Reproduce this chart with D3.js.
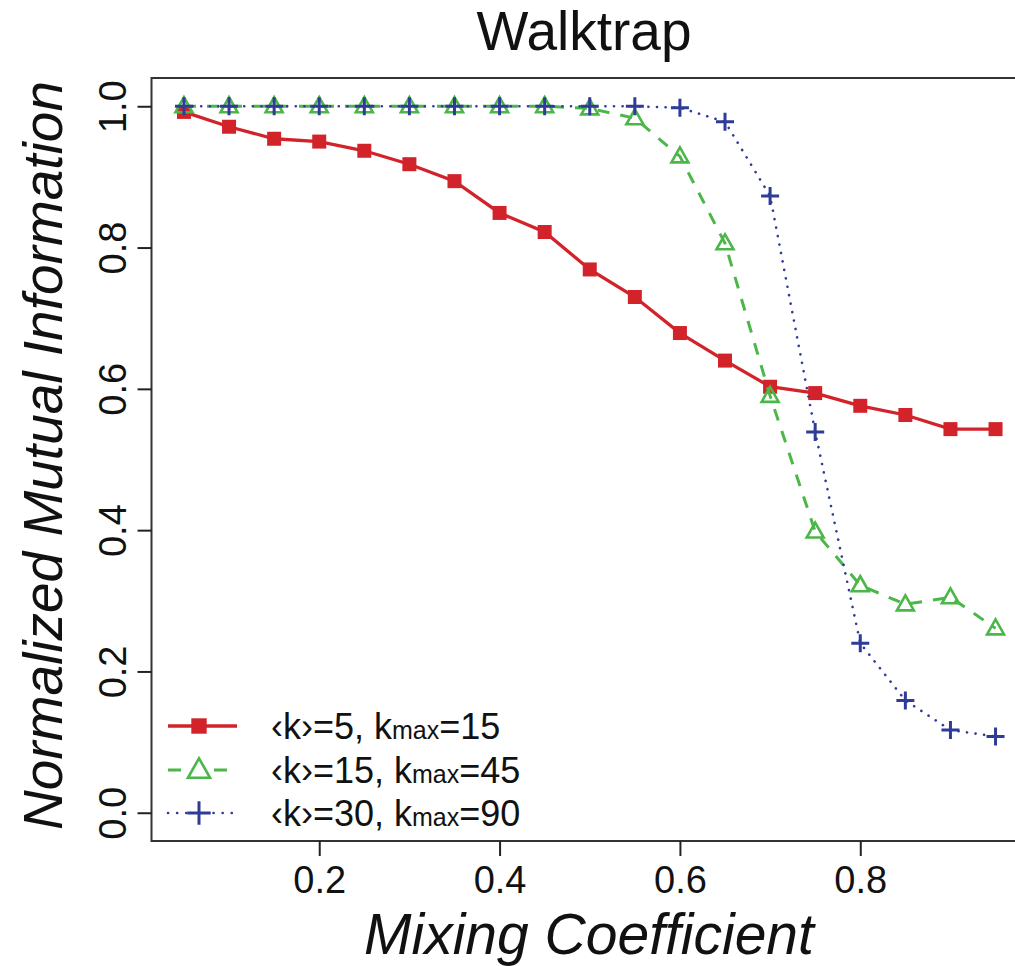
<!DOCTYPE html>
<html>
<head>
<meta charset="utf-8">
<script src="https://cdn.jsdelivr.net/npm/d3@7"></script>
<style>
  html, body { margin: 0; padding: 0; background: #fff; }
  svg { display: block; font-family: "Liberation Sans", Arial, Helvetica, sans-serif; }
</style>
</head>
<body>
<svg id="chart" width="1015" height="966"></svg>
<script>
// ---- data ----
const mixing = [0.05, 0.10, 0.15, 0.20, 0.25, 0.30, 0.35, 0.40, 0.45, 0.50,
                0.55, 0.60, 0.65, 0.70, 0.75, 0.80, 0.85, 0.90, 0.95];
const nmiK5  = [0.992, 0.971, 0.954, 0.950, 0.937, 0.918, 0.894, 0.849, 0.822, 0.769,
                0.730, 0.679, 0.640, 0.603, 0.594, 0.576, 0.563, 0.543, 0.543];
const nmiK15 = [1.000, 1.000, 1.000, 1.000, 1.000, 1.000, 1.000, 1.000, 1.000, 0.997,
                0.983, 0.929, 0.806, 0.590, 0.398, 0.322, 0.295, 0.305, 0.261];
const nmiK30 = [1.000, 1.000, 1.000, 1.000, 1.000, 1.000, 1.000, 1.000, 1.000, 1.000,
                1.000, 0.998, 0.978, 0.873, 0.539, 0.240, 0.159, 0.117, 0.108];
const xTicks = [0.2, 0.4, 0.6, 0.8];
const yTicks = [0.0, 0.2, 0.4, 0.6, 0.8, 1.0];
const seriesNames = [["‹k›=5, k", "max", "=15"], ["‹k›=15, k", "max", "=45"], ["‹k›=30, k", "max", "=90"]];
const titleText = "Walktrap";
const xLabel = "Mixing Coefficient";
const yLabel = "Normalized Mutual Information";

// ---- layout ----
const svg = d3.select("#chart");
const pLeft = 151.5, pRight = 1028, pTop = 78, pBottom = 841;
const x = d3.scaleLinear().domain([0.014, 0.986]).range([pLeft, pRight]);
const y = d3.scaleLinear().domain([-0.04, 1.04]).range([pBottom, pTop]);

const colors = ["#D3232A", "#4CB749", "#2E3C98"];
const series = [nmiK5, nmiK15, nmiK30];
const dashes = [null, "12 11", "0.1 8.5"];
const widths = [3.3, 3, 2.6];

// frame
svg.append("rect").attr("x", pLeft).attr("y", pTop)
  .attr("width", pRight - pLeft).attr("height", pBottom - pTop)
  .attr("fill", "none").attr("stroke", "#333").attr("stroke-width", 2);

// x axis
const xAxis = d3.axisBottom(x).tickValues(xTicks).tickSize(15).tickPadding(14)
  .tickFormat(d3.format(".1f"));
const gx = svg.append("g").attr("transform", `translate(0,${pBottom})`).call(xAxis);
gx.select(".domain").remove();
gx.selectAll(".tick line").attr("stroke", "#222").attr("stroke-width", 2);
gx.selectAll(".tick text").attr("font-size", 38).attr("fill", "#111")
  .attr("font-family", "'Liberation Sans', Arial, sans-serif")
  .attr("dy", "0.71em").attr("y", 25);

// y axis
const yAxis = d3.axisLeft(y).tickValues(yTicks).tickSize(14).tickFormat(d3.format(".1f"));
const gy = svg.append("g").attr("transform", `translate(${pLeft},0)`).call(yAxis);
gy.select(".domain").remove();
gy.selectAll(".tick line").attr("stroke", "#222").attr("stroke-width", 2);
gy.selectAll(".tick text")
  .attr("font-size", 38).attr("fill", "#111")
  .attr("font-family", "'Liberation Sans', Arial, sans-serif")
  .attr("x", null).attr("dy", null)
  .attr("text-anchor", "middle")
  .attr("transform", "translate(-26,0) rotate(-90)");

// lines & markers
function drawMarker(g, i, cx, cy, s) {
  if (i === 0) {
    const w = 14 * s;
    g.append("rect").attr("x", cx - w / 2).attr("y", cy - w / 2)
      .attr("width", w).attr("height", w).attr("fill", colors[0]);
  } else if (i === 1) {
    const hw = 8.5 * s, h = 15 * s;
    g.append("path")
      .attr("d", `M${cx - hw},${cy + h * 0.4}L${cx + hw},${cy + h * 0.4}L${cx},${cy - h * 0.6}Z`)
      .attr("fill", "none").attr("stroke", colors[1]).attr("stroke-width", 2.6);
  } else {
    const a = 9 * s;
    g.append("path")
      .attr("d", `M${cx - a},${cy}L${cx + a},${cy}M${cx},${cy - a}L${cx},${cy + a}`)
      .attr("fill", "none").attr("stroke", colors[2]).attr("stroke-width", 3);
  }
}

series.forEach((vals, i) => {
  const pts = mixing.map((m, j) => [m, vals[j]]);
  const line = d3.line().x(d => x(d[0])).y(d => y(d[1]));
  svg.append("path").datum(pts)
    .attr("d", line).attr("fill", "none")
    .attr("stroke", colors[i]).attr("stroke-width", widths[i])
    .attr("stroke-dasharray", dashes[i])
    .attr("stroke-linecap", i === 2 ? "round" : "butt");
  const g = svg.append("g");
  pts.forEach(p => drawMarker(g, i, x(p[0]), y(p[1]), 1));
});

// legend
const legY = [726, 770, 813];
seriesNames.forEach((parts, i) => {
  const ly = legY[i];
  svg.append("line").attr("x1", 168).attr("x2", 237).attr("y1", ly).attr("y2", ly)
    .attr("stroke", colors[i]).attr("stroke-width", widths[i])
    .attr("stroke-dasharray", i === 1 ? "13 10" : (i === 2 ? "0.1 9" : null))
    .attr("stroke-linecap", i === 2 ? "round" : "butt");
  if (i > 0) {
    svg.append("rect").attr("x", 188).attr("y", ly - 6).attr("width", 22).attr("height", 12).attr("fill", "#fff");
  }
  drawMarker(svg, i, 199, ly, i === 0 ? 1.1 : 1.3);
  const t = svg.append("text").attr("x", 271).attr("y", ly + 13)
    .attr("font-size", 36).attr("fill", "#111");
  t.append("tspan").text(parts[0]);
  t.append("tspan").attr("font-size", 25).text(parts[1]);
  t.append("tspan").text(parts[2]);
});

// titles
svg.append("text").attr("x", 584).attr("y", 50).attr("text-anchor", "middle")
  .attr("font-size", 55).attr("fill", "#111").text(titleText);
svg.append("text").attr("x", 589).attr("y", 954).attr("text-anchor", "middle")
  .attr("font-size", 57).attr("font-style", "italic").attr("fill", "#111").text(xLabel);
svg.append("text").attr("transform", `translate(62,${(pTop + pBottom) / 2 - 4}) rotate(-90)`)
  .attr("text-anchor", "middle")
  .attr("font-size", 55).attr("font-style", "italic").attr("fill", "#111").text(yLabel);
</script>
</body>
</html>
